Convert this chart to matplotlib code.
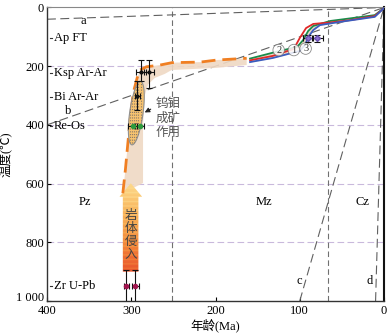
import numpy as np
import matplotlib
matplotlib.use('Agg')
import matplotlib.pyplot as plt
from matplotlib.patches import Polygon
from matplotlib.transforms import ScaledTranslation

plt.rcParams['font.serif'] = ['Liberation Serif', 'Times New Roman', 'DejaVu Serif']
plt.rcParams['font.family'] = ['serif', 'Noto Sans CJK SC']
plt.rcParams['font.size'] = 9

# --- data ---
# reference cooling-rate lines (°C/Ma): a, b, c, d
rate_names = ['a', 'b', 'c', 'd']
rates = [0.1, 1.0, 10.0, 100.0]
rate_label_x = [357, 375, 101, 17]
rate_label_t = [46, 352, 932, 932]

# geological era boundaries (Ma) and labels
era_bounds = [252, 66]
era_names = ['Pz', 'Mz', 'Cz']
era_x = [355, 143, 26]
era_t = [661, 661, 661]

# thermochronometer labels (closure temperatures)
method_names = ['Ap FT', 'Ksp Ar-Ar', 'Bi Ar-Ar', 'Re-Os', 'Zr U-Pb']
method_t = [105, 222, 304, 403, 949]

# measured ages
ksp_age = [288, 279]
ksp_t = [220, 220]
ksp_xerr = [6, 6]
ksp_tlo = [41, 41]
ksp_thi = [30, 54]

bi_age = [293]
bi_t = [300]
bi_xerr = [3]
bi_terr = [50]

reos_age = [298.5, 290]
reos_t = [403, 403]
reos_xerr = [5, 5]

zr_age = [306, 295]
zr_t = [949, 949]
zr_xerr = [3, 4]
zr_terr = [55, 55]

apft_age = [90.5, 79]
apft_t = [105, 105]
apft_xerr = [6, 6]
apft_terr = [12, 12]

# modelled thermal histories (age Ma, temperature °C)
green_age = [159, 132, 103, 96, 90, 84, 64, 40, 11, 0]
green_t = [174, 154, 134, 111, 80, 63, 46, 37, 26, 2]
red_age = [159, 132, 107, 100, 92.5, 84, 64, 40, 11, 0]
red_t = [180, 165, 141, 104, 70, 56, 51, 43, 29, 2]
blue_age = [159, 132, 100, 94, 89, 84, 76, 52, 11, 0]
blue_t = [186, 172, 148, 128, 97, 77, 60, 49, 32, 2]
model_colors = ['#1a8a4a', '#e02828', '#3a5cc0']
circle_labels = ['2', '1', '3']
circle_x = [125, 107, 93]
circle_t = [145, 145, 140]

# inferred cooling path (orange dashed) and envelope
path_age = [310, 307, 302, 297.7, 293, 289.4, 282, 265.7, 251.8, 218, 198.5, 163]
path_t = [633, 554, 400, 291, 240, 213, 202, 196, 188, 186, 179, 173]
env_lower_age = [163, 200, 252, 260, 272, 280, 284, 286, 286]
env_lower_t = [196, 206, 213, 226, 240, 262, 300, 400, 598]

# intrusion arrow
intr_age_lo, intr_age_hi = 291.5, 310
intr_head_lo, intr_head_hi = 287, 314
intr_t_bottom, intr_t_neck, intr_t_tip = 900, 645, 599

# W-Mo mineralization ellipse
ore_age, ore_t = 294, 360

fig = plt.figure(figsize=(3.92, 3.33), dpi=100)
ax = fig.add_axes([0.1199, 0.0961, 0.8597, 0.8814])
ax.set_xlim(400, 0)
ax.set_ylim(1000, 0)

# grid-like horizontal references
for t in [200, 400, 600, 800]:
    ax.axhline(t, color='#c9b9dc', lw=0.8, ls=(0, (6, 3)), zorder=1)
for b in era_bounds:
    ax.axvline(b, color='#707070', lw=0.8, ls=(0, (5, 3)), zorder=1)

# cooling-rate lines
for name, r, lx, lt in zip(rate_names, rates, rate_label_x, rate_label_t):
    xs = np.array([min(400, 1000 / r), 0])
    ax.plot(xs, r * xs, color='#606060', lw=0.8, ls=(0, (8, 4)), zorder=2)
    ax.text(lx, lt, name, ha='center', va='center', fontsize=9)

for name, x, t in zip(era_names, era_x, era_t):
    ax.text(x, t, name, ha='center', va='center', fontsize=9)

for name, t in zip(method_names, method_t):
    ax.plot([396.5, 394.5], [t, t], color='#333333', lw=0.8)
    ax.text(392, t, name, ha='left', va='center', fontsize=9)

# envelope around cooling path
env_x = list(path_age) + list(env_lower_age)
env_y = list(path_t) + list(env_lower_t)
env = Polygon(np.column_stack([env_x, env_y]), closed=True,
              facecolor='#efd9c4', edgecolor='none', alpha=0.9, zorder=2)
ax.add_patch(env)

# envelope of model curves
gx = np.linspace(0, 159, 200)
g_interp = np.interp(gx, green_age[::-1], green_t[::-1])
b_interp = np.interp(gx, blue_age[::-1], blue_t[::-1])
ax.fill_between(gx, g_interp, b_interp, color='#efd9c4', lw=0, zorder=2)

ax.plot(path_age, path_t, color='#f07f22', lw=2, ls=(0, (5, 2.5)), zorder=4)

for ages, temps, c in zip([green_age, red_age, blue_age], [green_t, red_t, blue_t], model_colors):
    ax.plot(ages, temps, color=c, lw=1.3, zorder=5)

for lab, x, t in zip(circle_labels, circle_x, circle_t):
    ax.text(x, t, lab, ha='center', va='center', fontsize=7.5, color='#333333',
            zorder=6,
            bbox=dict(boxstyle='circle,pad=0.12', fc='white', ec='#777777',
                      lw=0.6, alpha=0.85))

# mineralization ellipse
tt = np.linspace(0, 2 * np.pi, 100)
u, v = np.cos(tt), np.sin(tt)
ell_x = ore_age + 8 * u + 5 * v
ell_y = ore_t + 108 * v
ell = Polygon(np.column_stack([ell_x, ell_y]), closed=True, facecolor='#f7c370',
              edgecolor='#909090', lw=0.8, zorder=6)
ax.add_patch(ell)
for dx in [-5, -2.5, 0, 2.5, 5, 7.5]:
    ln, = ax.plot([ore_age + dx, ore_age + dx], [240, 480], color='#8a7a6a',
                  lw=0.8, ls=(0, (1, 1.5)), zorder=7)
    ln.set_clip_path(ell)

ax.annotate('', xy=(287, 362), xytext=(274, 342),
            arrowprops=dict(arrowstyle='-|>', color='#222222', lw=0.8,
                            mutation_scale=7), zorder=9)
ax.text(271, 376, '钨钼\n成矿\n作用', ha='left', va='center', fontsize=9,
        color='#555555', family=['Noto Sans CJK SC'], linespacing=1.1)

# intrusion arrow with gradient
body = Polygon([[intr_age_hi, intr_t_bottom], [intr_age_lo, intr_t_bottom],
                [intr_age_lo, intr_t_neck], [intr_head_lo, intr_t_neck],
                [(intr_head_lo + intr_head_hi) / 2, intr_t_tip],
                [intr_head_hi, intr_t_neck], [intr_age_hi, intr_t_neck]],
               closed=True, facecolor='none', edgecolor='none')
ax.add_patch(body)
grad = np.linspace(1, 0, 60).reshape(-1, 1)
stripes = (np.arange(60) % 3 == 0).reshape(-1, 1) * 0.12
cmap = matplotlib.colors.LinearSegmentedColormap.from_list(
    'intr', ['#e9532b', '#f38a3c', '#f8b45a', '#fdd88a'])
img = ax.imshow(np.clip(grad + stripes, 0, 1), cmap=cmap, aspect='auto',
                extent=[intr_head_hi, intr_head_lo, intr_t_bottom, intr_t_tip],
                origin='upper', zorder=3)
img.set_clip_path(body)
ax.text(300.5, 776, '岩\n体\n侵\n入', ha='center', va='center', fontsize=9,
        color='#444444', family=['Noto Sans CJK SC'], linespacing=1.0, zorder=8)

# error bars
ax.errorbar(ksp_age, ksp_t, xerr=ksp_xerr, yerr=[ksp_tlo, ksp_thi], fmt='o',
            ms=2, color='#111111', ecolor='#111111', elinewidth=0.8, capsize=2.5,
            capthick=0.8, zorder=10)
ax.errorbar(bi_age, bi_t, xerr=bi_xerr, yerr=bi_terr, fmt='o', ms=2,
            color='#111111', elinewidth=0.8, capsize=2.5, capthick=0.8, zorder=10)
ax.errorbar(reos_age, reos_t, xerr=reos_xerr, fmt='o', ms=3, mfc='#2e9a3e',
            mec='#2e9a3e', ecolor='#111111', elinewidth=0.8, capsize=2.5,
            capthick=0.8, zorder=10)
ax.errorbar(zr_age, zr_t, xerr=zr_xerr, yerr=zr_terr, fmt='o', ms=3,
            mfc='#a0154e', mec='#a0154e', ecolor='#111111', elinewidth=0.8,
            capsize=2, capthick=0.8, zorder=10)
ax.errorbar(apft_age, apft_t, xerr=apft_xerr, yerr=apft_terr, fmt='D', ms=3,
            mfc='#8a70d0', mec='#6a50b0', ecolor='#111111', elinewidth=0.8,
            capsize=2.5, capthick=0.8, zorder=10)

ax.set_xticks([400, 300, 200, 100, 0])
ax.set_xticklabels(['400', '300', '200', '100', '0'])
ax.set_yticks([0, 200, 400, 600, 800, 1000])
ax.set_yticklabels(['0', '200', '400', '600', '800', '1 000'])
ax.tick_params(direction='in', length=3, width=0.8, labelsize=9, pad=2)
ax.tick_params(axis='x', pad=3)
last = ax.get_yticklabels()[-1]
last.set_transform(last.get_transform() + ScaledTranslation(0, 3 / 72, fig.dpi_scale_trans))
ax.set_xlabel('年龄(Ma)', fontsize=9, labelpad=1)
ax.set_ylabel('温度(℃)', fontsize=9, labelpad=2)

for s in ['left', 'bottom']:
    ax.spines[s].set_color('#333333')
    ax.spines[s].set_linewidth(1.0)
ax.spines['top'].set_color('#888888')
ax.spines['top'].set_linewidth(0.8)
ax.spines['right'].set_color('#111111')
ax.spines['right'].set_linewidth(1.5)

fig.savefig('out.png', dpi=100)
